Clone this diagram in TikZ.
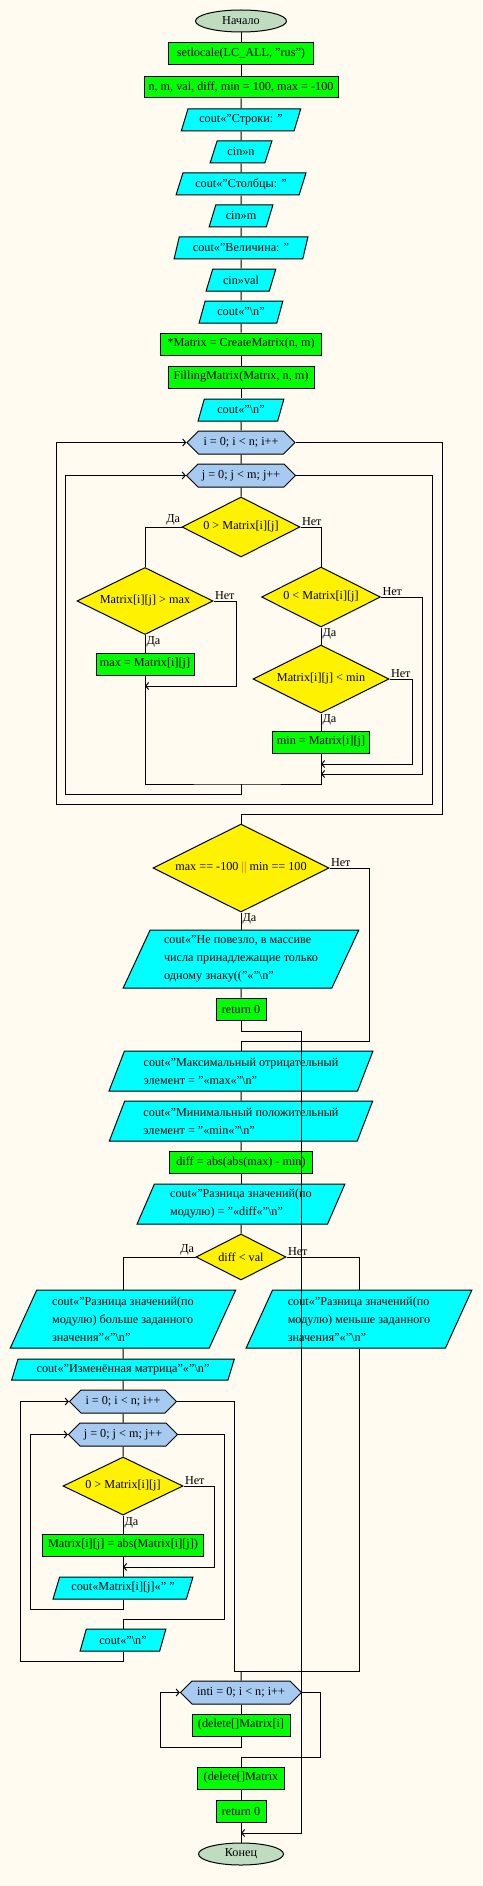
\documentclass[tikz,border=0pt]{standalone}
\usepackage{fontspec}
\setmainfont{Liberation Serif}
\usepackage{xcolor}
\usetikzlibrary{shapes.geometric}
\usetikzlibrary{shapes.symbols}
\usetikzlibrary{arrows.meta}

\definecolor{bgcream}{RGB}{255,251,240}
\definecolor{procgreen}{RGB}{0,255,0}
\definecolor{iocyan}{RGB}{0,255,255}
\definecolor{loopblue}{RGB}{166,202,240}
\definecolor{termgreen}{RGB}{192,220,192}

\begin{document}
\begin{tikzpicture}[x=1pt,y=-1pt,line width=1pt,
    every node/.style={font=\fontsize{12.2}{18}\selectfont},
    term/.style={draw,ellipse,fill=termgreen,minimum height=22,inner sep=0pt},
    proc/.style={draw,rectangle,fill=procgreen,minimum height=22,inner sep=0pt},
    io/.style={draw,trapezium,trapezium left angle=64,trapezium right angle=116,
      trapezium stretches=true,fill=iocyan,minimum height=22,inner sep=0pt,align=left},
    cond/.style={draw,diamond,aspect=2,fill=yellow,inner sep=0pt},
    forbox/.style={draw,signal,signal to=east and west,signal pointer angle=90,
      fill=loopblue,minimum height=23,inner sep=0pt},
    lbl/.style={inner sep=1pt},
    arr/.style={-{Straight Barb[length=3pt,width=7pt]}}]
      \useasboundingbox (0,0) rectangle (482,1886);
      \fill[bgcream] (0,0) rectangle (482,1886);

      %%%%%%%%%%%%%%%%%%%%%%%%%%%%%%%%%%%%%%%%%%%%%%%%%%%%%%%%%%%%%%%%%%%%%%%%%%
      %%% BEGIN: INPUT.
      %%%%%%%%%%%%%%%%%%%%%%%%%%%%%%%%%%%%%%%%%%%%%%%%%%%%%%%%%%%%%%%%%%%%%%%%%%
      \node[term,minimum width=91] (start) at (241,21) {Начало};
      \node[proc,minimum width=145] (setloc) at (241,54) {setlocale(LC\_ALL, "rus")};
      \node[proc,minimum width=194,minimum height=21] (decl) at (241,87.5) {n, m, val, diff, min = 100, max = -100};
      \node[io,minimum width=120] (outrows) at (241,120) {cout«"Строки: "};
      \node[io,minimum width=62] (inn) at (241,152) {cin»n};
      \node[io,minimum width=130] (outcols) at (241,184) {cout«"Столбцы: "};
      \node[io,minimum width=64] (inm) at (241,216) {cin»m};
      \node[io,minimum width=134] (outval) at (241,248) {cout«"Величина: "};
      \node[io,minimum width=70] (inval) at (241,280) {cin»val};
      \node[io,minimum width=84] (outnl1) at (241,312) {cout«"\textbackslash n"};
      \node[proc,minimum width=161] (create) at (241,344) {*Matrix = CreateMatrix(n, m)};
      \node[proc,minimum width=146] (fill) at (241,377) {FillingMatrix(Matrix, n, m)};
      \node[io,minimum width=86] (outnl2) at (241,410) {cout«"\textbackslash n"};
      %%%%%%%%%%%%%%%%%%%%%%%%%%%%%%%%%%%%%%%%%%%%%%%%%%%%%%%%%%%%%%%%%%%%%%%%%%
      %%% END: INPUT.
      %%%%%%%%%%%%%%%%%%%%%%%%%%%%%%%%%%%%%%%%%%%%%%%%%%%%%%%%%%%%%%%%%%%%%%%%%%

      %%%%%%%%%%%%%%%%%%%%%%%%%%%%%%%%%%%%%%%%%%%%%%%%%%%%%%%%%%%%%%%%%%%%%%%%%%
      %%% BEGIN: MIN / MAX LOOP.
      %%%%%%%%%%%%%%%%%%%%%%%%%%%%%%%%%%%%%%%%%%%%%%%%%%%%%%%%%%%%%%%%%%%%%%%%%%
      \node[forbox,minimum width=108] (loopi) at (241,442.5) {i = 0; i < n; i++};
      \node[forbox,minimum width=109] (loopj) at (241,475.5) {j = 0; j < m; j++};
      \node[cond,minimum width=118,minimum height=60] (isneg) at (241,527) {0 > Matrix[i][j]};
      \node[cond,minimum width=136,minimum height=67] (ismax) at (145,601) {Matrix[i][j] > max};
      \node[cond,minimum width=119,minimum height=60] (ispos) at (321,597) {0 < Matrix[i][j]};
      \node[cond,minimum width=136,minimum height=68] (ismin) at (321,679) {Matrix[i][j] < min};
      \node[proc,minimum width=98] (setmax) at (145,664) {max = Matrix[i][j]};
      \node[proc,minimum width=97] (setmin) at (321,742) {min = Matrix[i][j]};

      \coordinate (jmax) at (145,686);
      \coordinate (jmin) at (321,764);
      \coordinate (jpos) at (321,774);
      \coordinate (jend) at (241,784);
      %%%%%%%%%%%%%%%%%%%%%%%%%%%%%%%%%%%%%%%%%%%%%%%%%%%%%%%%%%%%%%%%%%%%%%%%%%
      %%% END: MIN / MAX LOOP.
      %%%%%%%%%%%%%%%%%%%%%%%%%%%%%%%%%%%%%%%%%%%%%%%%%%%%%%%%%%%%%%%%%%%%%%%%%%

      %%%%%%%%%%%%%%%%%%%%%%%%%%%%%%%%%%%%%%%%%%%%%%%%%%%%%%%%%%%%%%%%%%%%%%%%%%
      %%% BEGIN: RESULTS.
      %%%%%%%%%%%%%%%%%%%%%%%%%%%%%%%%%%%%%%%%%%%%%%%%%%%%%%%%%%%%%%%%%%%%%%%%%%
      \node[cond,minimum width=176,minimum height=88] (check) at (241,868) {max == -100 {\color{orange!75!black}||} min == 100};
      \node[io,minimum width=236,minimum height=58] (outfail) at (241,959)
        {cout«"Не повезло, в массиве\\числа принадлежащие только\\одному знаку(("«"\textbackslash n"};
      \node[proc,minimum width=50] (ret1) at (241,1009) {return 0};
      \node[io,minimum width=264,minimum height=40] (outmax) at (241,1071)
        {cout«"Максимальный отрицательный\\элемент = "«max«"\textbackslash n"};
      \node[io,minimum width=264,minimum height=40] (outmin) at (241,1121)
        {cout«"Минимальный положительный\\элемент = "«min«"\textbackslash n"};
      \node[proc,minimum width=143] (calcdiff) at (241,1162) {diff = abs(abs(max) - min)};
      \node[io,minimum width=208,minimum height=40] (outdiff) at (241,1204)
        {cout«"Разница значений(по\\модулю) = "«diff«"\textbackslash n"};
      \node[cond,minimum width=90,minimum height=46] (cmp) at (241,1257) {diff < val};
      \node[io,minimum width=226,minimum height=58] (outgt) at (123,1319)
        {cout«"Разница значений(по\\модулю) больше заданного\\значения"«"\textbackslash n"};
      \node[io,minimum width=226,minimum height=58] (outlt) at (359,1319)
        {cout«"Разница значений(по\\модулю) меньше заданного\\значения"«"\textbackslash n"};

      \coordinate (jchk) at (241,1041);
      \coordinate (jret) at (241,1833);
      %%%%%%%%%%%%%%%%%%%%%%%%%%%%%%%%%%%%%%%%%%%%%%%%%%%%%%%%%%%%%%%%%%%%%%%%%%
      %%% END: RESULTS.
      %%%%%%%%%%%%%%%%%%%%%%%%%%%%%%%%%%%%%%%%%%%%%%%%%%%%%%%%%%%%%%%%%%%%%%%%%%

      %%%%%%%%%%%%%%%%%%%%%%%%%%%%%%%%%%%%%%%%%%%%%%%%%%%%%%%%%%%%%%%%%%%%%%%%%%
      %%% BEGIN: ABS LOOP AND CLEANUP.
      %%%%%%%%%%%%%%%%%%%%%%%%%%%%%%%%%%%%%%%%%%%%%%%%%%%%%%%%%%%%%%%%%%%%%%%%%%
      \node[io,minimum width=223,minimum height=21] (outchg) at (123,1369.5) {cout«"Изменённая матрица"«"\textbackslash n"};
      \node[forbox,minimum width=107] (loopi2) at (123,1401.5) {i = 0; i < n; i++};
      \node[forbox,minimum width=109] (loopj2) at (123,1434.5) {j = 0; j < m; j++};
      \node[cond,minimum width=120,minimum height=58] (isneg2) at (123,1486) {0 > Matrix[i][j]};
      \node[proc,minimum width=161] (setabs) at (123,1545) {Matrix[i][j] = abs(Matrix[i][j])};
      \node[io,minimum width=140] (outelem) at (123,1588) {cout«Matrix[i][j]«" "};
      \node[io,minimum width=86] (outnl3) at (123,1640) {cout«"\textbackslash n"};
      \node[forbox,minimum width=121] (loopdel) at (241,1692.5) {inti = 0; i < n; i++};
      \node[proc,minimum width=98] (delrow) at (241,1725) {(delete[]Matrix[i]};
      \node[proc,minimum width=87] (delmat) at (241,1778) {(delete[]Matrix};
      \node[proc,minimum width=50] (ret2) at (241,1811) {return 0};
      \node[term,minimum width=85] (stop) at (241,1854) {Конец};

      \coordinate (jabs) at (123,1567);
      \coordinate (jcmp) at (241,1671);
      %%%%%%%%%%%%%%%%%%%%%%%%%%%%%%%%%%%%%%%%%%%%%%%%%%%%%%%%%%%%%%%%%%%%%%%%%%
      %%% END: ABS LOOP AND CLEANUP.
      %%%%%%%%%%%%%%%%%%%%%%%%%%%%%%%%%%%%%%%%%%%%%%%%%%%%%%%%%%%%%%%%%%%%%%%%%%

      % Straight links.
      \foreach \a/\b in {start/setloc,setloc/decl,decl/outrows,outrows/inn,inn/outcols,
          outcols/inm,inm/outval,outval/inval,inval/outnl1,outnl1/create,create/fill,
          fill/outnl2,outnl2/loopi,loopi/loopj,loopj/isneg,ismax/setmax,ispos/ismin,
          ismin/setmin,check/outfail,outfail/ret1,jchk/outmax,outmax/outmin,
          outmin/calcdiff,calcdiff/outdiff,outdiff/cmp,outgt/outchg,outchg/loopi2,
          loopi2/loopj2,loopj2/isneg2,isneg2/setabs,setabs/outelem,jcmp/loopdel,
          loopdel/delrow,delmat/ret2,ret2/stop}{
        \draw (\a) -- (\b);
      }

      % Branches of the first loop.
      \draw (isneg.west) -| (ismax.north);
      \draw (isneg.east) -| (ispos.north);
      \draw[arr] (ismax.east) -- ++(23,0) |- (jmax);
      \draw[arr] (ismin.east) -- ++(23,0) |- (jmin);
      \draw[arr] (ispos.east) -- ++(41,0) |- (jpos);
      \draw (setmax.south) |- (jend) -| (setmin.south);
      \draw[arr] (jend) -- ++(0,10) -| ([xshift=-120pt]loopj.west) -- (loopj.west);
      \draw[arr] (loopj.east) -| (432,804) -| ([xshift=-130pt]loopi.west) -- (loopi.west);
      \draw (loopi.east) -| (442,814) -| (check.north);

      % Branches of the results.
      \draw (check.east) -- ++(40,0) |- (jchk);
      \draw (cmp.west) -| (outgt.north);
      \draw (cmp.east) -| (outlt.north);

      % Branches of the second loop.
      \draw[arr] (isneg2.east) -- ++(31,0) |- (jabs);
      \draw[arr] (outelem.south) -- ++(0,10) -| ([xshift=-37pt]loopj2.west) -- (loopj2.west);
      \draw (loopj2.east) -| (224,1619) -| (outnl3.north);
      \draw[arr] (outnl3.south) -- ++(0,10) -| ([xshift=-48pt]loopi2.west) -- (loopi2.west);
      \draw (loopi2.east) -| (234,1671) -| (outlt.south);
      \draw[arr] (delrow.south) -- ++(0,11) -| ([xshift=-19pt]loopdel.west) -- (loopdel.west);
      \draw (loopdel.east) -| (320,1757) -| (delmat.north);

      % Early exit.
      \draw[arr] (ret1.south) -- ++(0,11) -| (301,1833) -- (jret);

      % Yes / no labels.
      \node[lbl,anchor=south east] (yes1) at (isneg.west) {Да};
      \node[lbl,anchor=south west] (no1) at (isneg.east) {Нет};
      \node[lbl,anchor=south west] (no2) at (ismax.east) {Нет};
      \node[lbl,anchor=north west] (yes2) at (ismax.south) {Да};
      \node[lbl,anchor=south west] (no3) at (ispos.east) {Нет};
      \node[lbl,anchor=north west] (yes3) at (ispos.south) {Да};
      \node[lbl,anchor=south west] (no4) at (ismin.east) {Нет};
      \node[lbl,anchor=north west] (yes4) at (ismin.south) {Да};
      \node[lbl,anchor=south west] (no5) at (check.east) {Нет};
      \node[lbl,anchor=north west] (yes5) at (check.south) {Да};
      \node[lbl,anchor=south east] (yes6) at (cmp.west) {Да};
      \node[lbl,anchor=south west] (no6) at (cmp.east) {Нет};
      \node[lbl,anchor=south west] (no7) at (isneg2.east) {Нет};
      \node[lbl,anchor=north west] (yes7) at (isneg2.south) {Да};
    \end{tikzpicture}
\end{document}
